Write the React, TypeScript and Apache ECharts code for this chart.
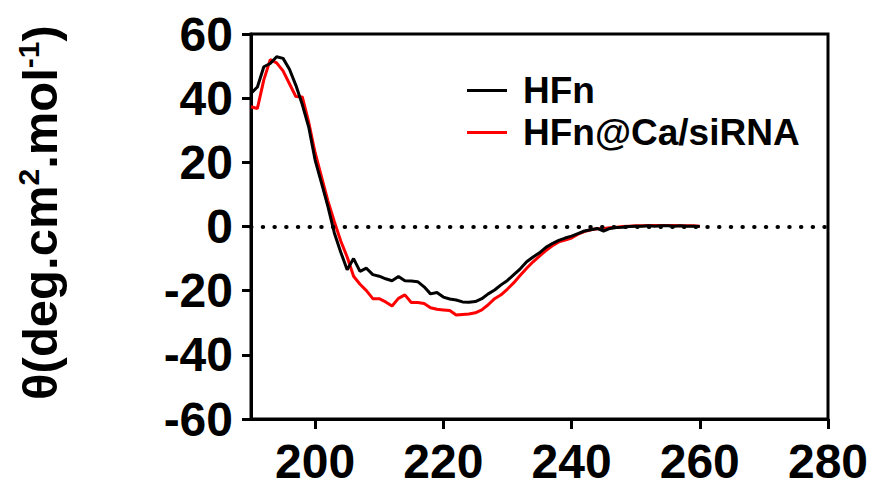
import React, { useEffect, useRef } from "react";
import * as echarts from "echarts";

const wavelengths = [
  190, 191, 192, 193, 194, 195, 196, 197, 198, 199,
  200, 201, 202, 203, 204, 205, 206, 207, 208, 209,
  210, 211, 212, 213, 214, 215, 216, 217, 218, 219,
  220, 221, 222, 223, 224, 225, 226, 227, 228, 229,
  230, 231, 232, 233, 234, 235, 236, 237, 238, 239,
  240, 241, 242, 243, 244, 245, 246, 247, 248, 249,
  250, 251, 252, 253, 254, 255, 256, 257, 258, 259, 260,
];

const hfn = [
  41.5, 43.5, 49.8, 50.8, 52.9, 52.4, 49, 44, 38, 31,
  20.7, 13.5, 6.2, -2, -8, -13.5, -10, -14, -13, -15,
  -15.5, -16.3, -16.9, -15.6, -16.9, -17, -17.2, -18.8, -21, -20.6,
  -22, -22.6, -22.9, -23.5, -23.6, -23.4, -22.5, -21, -19.8, -18.2,
  -16.8, -15, -13.2, -11, -9.5, -8.2, -6.5, -5.3, -4.3, -3.6,
  -3, -2.2, -1.4, -1, -0.6, -1.4, -0.6, -0.3, -0.2, 0,
  0.1, 0.1, 0.2, 0.1, 0.2, 0.2, 0.1, 0.2, 0.1, 0.1, 0,
];

const hfnCa = [
  37.3, 36.8, 45.7, 52, 51, 48.5, 44.5, 40.5, 40.4, 32.5,
  23, 15.5, 8, 1.5, -4.5, -9.5, -15.5, -18, -20, -22.5,
  -22.5, -23.5, -24.8, -22.4, -21.3, -23.7, -23.7, -24, -25.3, -25.8,
  -26, -26.2, -27.6, -27.4, -27.3, -26.9, -26, -24.4, -22.5, -21.3,
  -19.5, -17.5, -15.2, -13, -11, -9.2, -7.5, -6, -4.8, -4.2,
  -3.6, -2.4, -1.6, -1, -0.7, -0.6, -0.4, -0.2, 0, 0.1,
  0.2, 0.2, 0.3, 0.3, 0.3, 0.3, 0.3, 0.2, 0.2, 0.2, 0.1,
];

const xTicks = [200, 220, 240, 260, 280];
const seriesNames = ["HFn", "HFn@Ca/siRNA"];
const seriesColors = ["#000000", "#ff0000"];

const FONT = "'Liberation Sans', Arial, sans-serif";

export default function App() {
  const ref = useRef<HTMLDivElement>(null);
  useEffect(() => {
    document.body.style.margin = "0";
    if (!ref.current) return;
    const chart = echarts.init(ref.current, undefined, { renderer: "svg" });
    const pair = (ys: number[]) => wavelengths.map((x, i) => [x, ys[i]]);
    chart.setOption({
      animation: false,
      backgroundColor: "#ffffff",
      grid: {
        left: 251,
        right: 45,
        top: 34,
        bottom: 69,
        show: true,
        borderColor: "#000",
        borderWidth: 3,
      },
      legend: {
        orient: "vertical",
        left: 462,
        top: 67,
        icon: "rect",
        itemWidth: 40,
        itemHeight: 3,
        itemGap: 5,
        data: seriesNames,
        textStyle: {
          fontFamily: FONT,
          fontWeight: "bold",
          fontSize: 37,
          color: "#000",
          padding: [0, 0, 0, 11],
        },
      },
      xAxis: {
        type: "value",
        min: 190,
        max: 280,
        axisLine: { show: true, onZero: false, lineStyle: { color: "#000", width: 3 } },
        axisTick: {
          show: true,
          length: 10,
          lineStyle: { color: "#000", width: 3 },
          customValues: xTicks,
        },
        axisLabel: {
          customValues: xTicks,
          margin: 18,
          fontFamily: FONT,
          fontWeight: "bold",
          fontSize: 48,
          color: "#000",
        },
        splitLine: { show: false },
      },
      yAxis: {
        type: "value",
        min: -60,
        max: 60,
        interval: 20,
        name: "θ(deg.cm{sup|2}.mol{sup|-1})",
        nameLocation: "middle",
        nameGap: 184,
        nameRotate: 90,
        nameTextStyle: {
          fontFamily: FONT,
          fontWeight: "bold",
          fontSize: 49,
          color: "#000",
          lineHeight: 54,
          padding: [0, 0, 0, 28],
          rich: {
            sup: {
              fontFamily: FONT,
              fontWeight: "bold",
              fontSize: 30,
              color: "#000",
              verticalAlign: "top",
              lineHeight: 54,
              padding: [0, 0, 20, 0],
            },
          },
        },
        axisLine: { show: true, lineStyle: { color: "#000", width: 3 } },
        axisTick: { show: true, length: 9, lineStyle: { color: "#000", width: 3 } },
        axisLabel: {
          margin: 18,
          fontFamily: FONT,
          fontWeight: "bold",
          fontSize: 48,
          color: "#000",
        },
        splitLine: { show: false },
      },
      series: [
        {
          name: seriesNames[0],
          type: "line",
          data: pair(hfn),
          symbol: "none",
          z: 3,
          lineStyle: { color: seriesColors[0], width: 3 },
          itemStyle: { color: seriesColors[0] },
          markLine: {
            silent: true,
            symbol: "none",
            label: { show: false },
            lineStyle: {
              color: "#000",
              width: 4,
              type: [0.5, 11.2],
              cap: "round",
            },
            data: [{ yAxis: 0 }],
          },
        },
        {
          name: seriesNames[1],
          type: "line",
          data: pair(hfnCa),
          symbol: "none",
          z: 2,
          lineStyle: { color: seriesColors[1], width: 3 },
          itemStyle: { color: seriesColors[1] },
        },
      ],
    });
    return () => chart.dispose();
  }, []);
  return <div ref={ref} style={{ width: 873, height: 488 }} />;
}
